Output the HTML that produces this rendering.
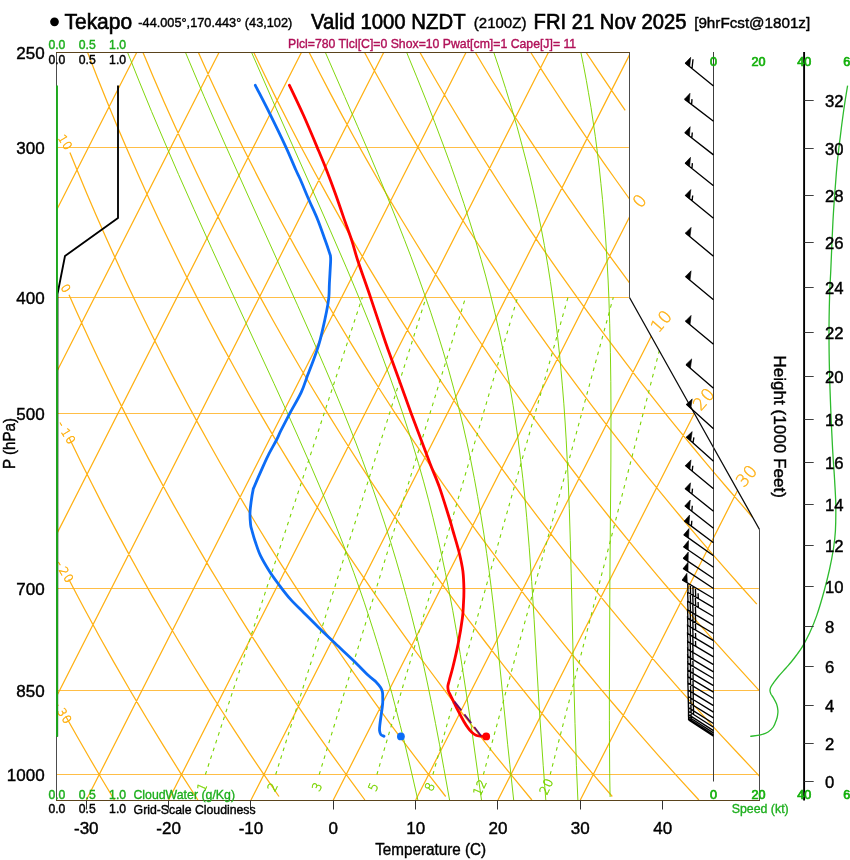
<!DOCTYPE html>
<html lang="en"><head><meta charset="utf-8"><title>Tekapo Skew-T sounding forecast</title>
<style>
html,body{margin:0;padding:0;background:#fff}
body{width:850px;height:860px;overflow:hidden;font-family:"Liberation Sans", Arial, Helvetica, sans-serif}
svg{display:block}
text{font-family:"Liberation Sans", Arial, Helvetica, sans-serif}
.k{stroke:#000;stroke-width:0.42px}
.t{stroke-width:0.62px}
text.d{font-family:"DejaVu Sans Light","DejaVu Sans","Liberation Sans",sans-serif;font-weight:200}
</style></head><body>
<svg width="850" height="860" viewBox="0 0 850 860">
<rect width="850" height="860" fill="#fff"/>
<g fill="none" stroke="#ffb114" stroke-width="1.25">
<path d="M56.5 147.5H628.9M56.5 297.5H628.9M56.5 413.5H693.8M56.5 588.5H758.9M56.5 690.5H758.9M56.5 774.5H758.9" stroke="#ffbe46" stroke-width="1"/>
<path d="M56.5 210.3L136.7 52.5M56.5 372.3L219.0 52.5M56.5 534.4L301.4 52.5M56.5 696.5L383.7 52.5M86.3 800.0L466.0 52.5M168.6 800.0L548.4 52.5M251.0 800.0L629.5 54.9M333.3 800.0L629.5 217.0M415.7 800.0L651.2 336.3M498.0 800.0L694.3 413.5M580.3 800.0L737.4 490.8M65.7 716.2L77.3 736.7L89.5 758.0L101.8 779.0L114.4 800.0M68.8 579.3L76.1 593.2L83.8 607.8L99.0 635.7L114.4 663.1L130.3 690.7L138.4 704.4L146.8 718.5L163.4 745.6L180.4 772.8L197.9 800.0M69.0 437.5L80.3 460.7L91.4 482.8L103.4 506.4L115.3 528.9L127.5 551.6L140.0 574.3L152.8 597.1L166.0 619.8L179.4 642.5L192.5 664.2L206.4 686.7L220.6 709.0L234.9 731.2L249.4 753.1L264.1 774.9L279.0 796.5M69.0 294.7L75.9 310.2L83.4 326.8L90.9 343.0L99.0 360.2L107.0 376.8L114.9 393.0L122.7 408.6L131.1 425.2L139.4 441.2L148.2 458.1L156.9 474.4L165.5 490.2L174.0 505.6L183.1 521.6L192.0 537.2L201.4 553.4L210.6 569.1L220.4 585.3L230.0 601.0L239.4 616.3L249.3 632.1L259.1 647.4L269.3 663.1L279.4 678.3L289.8 694.0L300.1 709.1L310.8 724.7L321.3 739.7L332.2 755.1L342.9 770.0L354.0 785.2L364.9 800.0M69.9 152.4L78.1 172.5L87.0 193.9L95.8 214.5L105.4 236.2L114.8 257.1L124.8 278.9L134.8 299.9L144.5 320.0L154.9 341.0L165.1 361.2L175.9 382.1L186.6 402.2L197.8 422.9L208.8 442.8L220.3 463.2L232.4 484.0L244.2 504.1L256.5 524.5L268.5 544.2L281.0 564.1L294.0 584.3L306.7 603.8L319.7 623.5L332.6 642.5L345.8 661.6L359.3 680.9L373.2 700.3L387.3 719.8L401.8 739.3L416.0 758.1L431.0 777.7L445.7 796.5M87.6 52.5L97.1 76.9L107.5 102.8L117.7 127.4L127.8 150.9L138.6 175.6L149.3 199.2L160.7 223.8L172.9 249.1L184.8 273.3L196.4 296.4L208.8 320.2L221.7 344.6L234.4 367.8L247.6 391.5L261.4 415.6L274.9 438.6L289.0 461.9L302.7 484.2L317.6 507.9L332.2 530.6L347.2 553.4L362.6 576.2L378.3 599.1L394.4 621.9L410.7 644.7L426.8 666.5L443.7 689.1L460.8 711.5L478.2 733.7L495.7 755.8L513.5 777.7L531.9 800.0M143.0 52.5L153.2 76.7L164.3 102.4L175.2 126.8L185.9 150.1L197.5 174.7L209.8 200.2L221.9 224.5L233.8 247.7L246.5 271.7L259.8 296.4L272.8 320.0L286.5 344.2L299.9 367.3L313.9 390.8L328.5 414.7L342.7 437.5L357.5 460.7L372.0 482.8L387.7 506.4L403.1 528.9L418.9 551.6L435.1 574.3L451.6 597.1L468.5 619.8L485.7 642.5L502.5 664.2L520.3 686.7L538.3 709.0L556.5 731.2L575.0 753.1L593.6 774.9L612.3 796.5M198.4 52.5L209.4 76.9L221.4 102.8L233.2 127.4L244.7 150.9L257.2 175.6L269.4 199.2L282.4 223.8L296.3 249.1L309.8 273.3L323.1 296.4L337.1 320.2L351.8 344.6L366.1 367.8L381.1 391.5L396.7 415.6L411.9 438.6L427.7 461.9L443.1 484.2L459.9 507.9L476.2 530.6L493.1 553.4L510.3 576.2L527.9 599.1L545.8 621.9L564.1 644.7L582.0 666.5L600.8 689.1L619.9 711.5L639.2 733.7L658.7 755.8L678.4 777.7L698.9 800.0M253.8 52.5L264.9 75.5L276.9 99.9L288.8 123.3L301.5 147.8L314.1 171.2L327.4 195.6L340.5 218.9L354.4 243.1L368.0 266.1L382.4 289.9L396.4 312.6L411.2 335.8L425.6 358.1L440.7 380.9L456.3 404.0L471.6 426.2L487.5 448.6L503.9 471.4L520.8 494.3L537.2 516.2L554.2 538.2L571.5 560.4L589.3 582.6L606.6 603.9L625.1 626.1L643.1 647.4L661.4 668.6L680.7 690.6L699.6 711.7L719.3 733.3L739.3 754.8L759.4 776.1M309.2 52.5L319.7 73.0L331.0 94.6L342.1 115.4L354.0 137.2L365.7 158.1L377.2 178.2L389.4 199.1L401.4 219.2L414.1 240.0L426.5 260.1L439.6 280.7L452.4 300.6L465.9 320.9L479.1 340.5L492.8 360.6L507.1 381.0L521.1 400.6L535.6 420.6L550.5 440.8L565.2 460.3L580.2 480.0L595.7 499.8L610.9 519.0L626.5 538.2L642.4 557.6L658.7 577.1L675.3 596.5L691.5 615.3L708.1 634.1L724.9 652.9L742.0 671.7L759.5 690.8M364.6 52.5L374.1 70.2L384.4 88.8L394.5 106.8L404.5 124.2L415.1 142.4L425.5 160.0L436.6 178.3L447.5 196.0L459.0 214.3L470.2 232.0L481.3 249.0L493.0 266.7L504.5 283.7L516.4 301.3L528.2 318.3L540.5 335.6L552.5 352.4L565.0 369.6L578.0 387.1L590.7 404.1L603.9 421.3L616.8 437.9L630.1 454.8L643.7 471.9L657.2 488.4L671.0 505.2L685.1 522.0L698.9 538.4L713.1 554.8L727.6 571.4L742.3 588.0L756.8 604.2M420.0 52.5L427.8 66.2L437.0 82.2L446.2 97.7L455.2 112.8L464.1 127.4L472.8 141.6L481.5 155.5L491.4 171.2L501.2 186.5L510.9 201.3L520.5 215.7L529.9 229.7L540.5 245.3L550.9 260.4L561.2 275.1L571.4 289.4L581.4 303.3L592.5 318.6L603.5 333.3L614.3 347.7L624.9 361.7L636.5 376.8L646.9 390.1L658.2 404.4L669.3 418.4L680.3 431.9L692.3 446.5L704.0 460.6L715.6 474.4L728.1 489.0L740.3 503.2L752.7 517.5M475.4 52.5L483.6 66.2L493.3 82.2L501.4 95.2L510.9 110.3L520.2 125.0L529.5 139.3L538.6 153.2L549.1 169.0L557.9 182.2L568.1 197.1L578.2 211.6L588.1 225.8L597.9 239.5L608.9 254.8L619.8 269.7L629.5 282.8M530.8 52.5L542.8 71.6L554.7 90.0L566.4 107.8L579.5 127.4L590.8 144.0L603.4 162.3L615.9 180.0L629.5 199.0M586.2 52.5L595.2 66.2L606.0 82.2L614.8 95.2L625.2 110.3"/>
</g>
<g fill="none" stroke="#7ad400" stroke-width="0.95">
<path d="M417.9 800.2L413.3 780.0L408.9 761.1L404.5 742.5L400.3 725.7L396.1 709.4L392.0 693.8L387.5 677.7L383.1 662.4L378.4 646.7L373.8 631.8L368.9 616.5L364.2 602.2L359.1 587.5L353.7 572.3L347.9 556.7L343.0 543.9L333.2 519.0L322.4 492.8L310.6 465.2L297.8 436.1L286.8 411.6L274.1 383.7L229.3 286.9L211.6 248.3L194.2 209.7L178.6 174.6L165.4 144.0L151.6 111.6L139.0 80.9L127.6 52.5M449.6 800.2L443.9 768.5L439.6 744.8L435.5 723.4L431.6 703.4L427.6 684.0L423.8 666.3L420.5 652.0L416.3 634.6L411.4 615.1L406.4 596.4L401.4 578.5L396.0 559.9L390.7 542.3L384.9 524.1L379.1 506.9L373.0 489.2L367.7 474.6L362.2 459.5L356.3 444.0L350.8 430.1L344.2 413.7L338.1 398.9L331.8 383.7L324.1 365.7L311.9 337.5L297.5 305.2L284.4 276.1L247.3 194.0L224.9 144.0L213.9 119.0L204.1 96.5L194.1 72.9L185.5 52.5M481.5 800.2L471.2 725.7L464.1 679.0L460.3 654.6L456.5 631.8L452.8 610.8L449.2 591.9L445.3 572.3L441.3 553.6L437.3 535.7L432.9 517.3L428.5 499.9L423.7 481.9L418.4 463.3L413.2 446.0L407.5 428.1L402.1 411.6L396.2 394.6L389.9 377.0L383.2 358.8L376.0 339.9L369.2 322.8L361.0 302.6L354.5 286.9L346.5 267.9L330.4 230.8L314.2 194.0L272.5 100.3L251.6 52.5M513.7 800.2L509.8 764.3L507.7 744.8L499.2 659.8L495.5 624.9L493.3 605.1L491.2 587.5L489.1 570.8L486.7 553.6L483.9 534.1L480.9 515.6L477.6 496.4L474.3 478.3L470.6 459.5L466.8 442.1L462.7 424.0L458.6 407.4L453.6 388.1L448.7 370.2L443.3 351.8L437.4 332.7L430.9 312.8L424.7 294.8L418.1 276.1L411.0 256.8L404.4 239.6L396.2 218.8L387.5 197.2L378.1 174.6L368.2 151.0L357.5 126.2L344.6 96.5L325.4 52.5M545.8 800.2L543.2 765.3L539.9 717.6L538.1 688.9L534.1 619.3L531.7 581.5L529.2 547.2L526.7 517.3L524.9 498.1L522.8 478.3L520.6 459.5L518.2 440.1L515.6 422.0L513.1 405.3L510.2 388.1L507.0 370.2L503.4 351.8L499.4 332.7L494.9 312.8L490.5 294.8L485.7 276.1L481.1 259.6L475.3 239.6L469.8 221.9L463.9 203.5L457.4 184.4L450.5 164.6L442.9 144.0L434.8 122.6L426.1 100.3L416.7 76.9L406.7 52.5M577.9 800.2L576.4 765.3L575.0 723.4L573.0 652.0L571.2 573.9L570.3 540.7L569.3 508.7L568.1 478.3L567.2 459.5L566.2 440.1L565.1 422.0L563.8 403.2L562.4 385.9L561.0 370.2L559.5 354.1L557.7 337.5L555.4 317.9L553.0 300.0L550.4 281.5L547.8 265.2L544.4 245.4L541.1 227.8L537.4 209.7L534.0 194.0L530.3 177.9L526.2 161.2L521.7 144.0L516.9 126.2L511.5 107.8L505.7 88.7L499.3 68.9L493.8 52.5M610.1 797.0L609.7 773.7L609.5 748.2L609.4 720.3L609.4 689.6L609.9 578.8L610.9 461.0L611.0 413.6L610.8 381.7L610.4 352.3L609.7 323.6L608.9 298.4L608.1 280.0L607.2 263.8L606.2 247.0L605.0 229.6L603.8 214.7L602.5 199.3L600.9 183.4L599.2 167.1L597.1 150.2L595.3 136.4L593.2 122.1L591.0 107.4L588.4 92.3L586.4 80.7L583.4 64.8L580.9 52.5"/>
<path d="M205.4 774.5L362.3 297.3M275.7 774.5L426.1 297.3M319.2 774.5L465.6 297.3M376.9 774.5L517.6 297.3M432.9 774.5L568.0 297.3M483.4 774.5L613.3 297.3M550.2 774.5L659.3 350.7" stroke-dasharray="3.6 4.6" stroke-width="1.1"/>
</g>
<g fill="#7ad400" font-size="12.4" text-anchor="middle" stroke="#7ad400" stroke-width="0.4">
<text class="d" transform="translate(201.8 787.0) rotate(-65)" x="0.0" y="4.5">1</text>
<text class="d" transform="translate(272.4 787.0) rotate(-65)" x="0.0" y="4.5">2</text>
<text class="d" transform="translate(316.8 786.8) rotate(-65)" x="0.0" y="4.5">3</text>
<text class="d" transform="translate(373.2 787.1) rotate(-65)" x="0.0" y="4.5">5</text>
<text class="d" transform="translate(429.7 786.8) rotate(-65)" x="0.0" y="4.5">8</text>
<text class="d" transform="translate(477.9 791.4) rotate(-65)" x="0.0 8.3" y="4.5 4.5">12</text>
<text class="d" transform="translate(544.4 790.4) rotate(-65)" x="0.0 8.4" y="4.5 4.5">20</text>
</g>
<g fill="#ffb114" font-size="17.2" text-anchor="middle" stroke="#ffb114" stroke-width="0.35">
<text class="d" transform="translate(639.3 200.7) rotate(-49)" x="0.0" y="6.3">0</text>
<text class="d" transform="translate(657.0 325.4) rotate(-49)" x="0.0 11.6" y="6.3 6.3">10</text>
<text class="d" transform="translate(699.6 403.5) rotate(-49)" x="0.0 11.8" y="6.3 6.3">20</text>
<text class="d" transform="translate(742.5 480.0) rotate(-49)" x="0.0 11.3" y="6.3 6.3">30</text>
</g>
<g fill="#ffb114" font-size="11.8" text-anchor="middle" stroke="#ffb114" stroke-width="0.5">
<text class="d" transform="translate(63.2 138.6) rotate(58.6)" x="0.0 8.1" y="4.3 4.3">10</text>
<text class="d" transform="translate(66.0 288.1) rotate(58.6)" x="0.0" y="4.3">0</text>
<text class="d" transform="translate(61.0 424.0) rotate(58.6)" x="0.0 9.8 18.3" y="3.5 4.3 4.3">-10</text>
<text class="d" transform="translate(59.6 563.5) rotate(58.6)" x="0.0 8.7 17.2" y="3.5 4.3 4.3">-20</text>
<text class="d" transform="translate(57.5 704.0) rotate(58.6)" x="0.0 9.6 17.8" y="3.5 4.3 4.3">-30</text>
</g>
<path d="M56.5 52.5V800.5M629.5 52.5V297.5M759.5 529.5V800.5" stroke="#4c4c4c" stroke-width="1" fill="none"/>
<path d="M629.5 297.5L694.4 413.5L759.5 529.5" stroke="#0c0c0c" stroke-width="1.3" fill="none"/>
<path d="M56 52.5H630M56 800.5H760" stroke="#5a431c" stroke-width="1" fill="none"/>
<path d="M86.5 800.5v9M168.5 800.5v9M250.5 800.5v9M333.5 800.5v9M415.5 800.5v9M497.5 800.5v9M580.5 800.5v9M662.5 800.5v9" stroke="#333" stroke-width="1" fill="none"/>
<path d="M118.0 85.6L118.0 218.0L65.0 256.0L57.5 294.0L57.2 736.5" stroke="#000" stroke-width="1.85" fill="none" stroke-linejoin="round"/>
<path d="M57 85.4V736.7" stroke="#1cab1c" stroke-width="1.9" fill="none"/>
<path d="M713.5 52V781.5" stroke="#3c3c3c" stroke-width="1" fill="none"/>
<path d="M713.5 85.9L685.2 63.0M692.0 68.5l1.0 -9.3M713.5 121.3L684.6 99.1M691.6 104.5l0.4 -5.4M713.5 154.9L684.8 132.5M691.8 137.9l0.5 -5.4M713.5 185.7L685.1 163.0M691.9 168.5l0.5 -5.4M713.5 218.3L685.3 195.3M692.1 200.9l0.6 -5.4M713.5 256.3L685.5 233.0M713.5 299.7L685.5 276.4M713.5 344.3L685.5 321.0M713.5 388.3L686.0 364.4M713.5 428.7L686.4 404.3M713.5 461.3L686.4 437.0M693.0 442.8l0.9 -5.4M713.5 488.7L685.4 465.5M692.2 471.1l0.6 -5.4M713.5 511.3L685.1 488.5M692.0 494.0l0.5 -5.4M713.5 528.3L684.9 505.8M691.8 511.2l0.5 -5.4M713.5 542.7L684.4 520.9M691.4 526.2l0.4 -5.4M713.5 555.7L683.8 534.6M713.5 567.3L683.5 546.7M713.5 578.5L683.3 558.1M713.5 588.5L683.2 568.4M713.5 598.5L682.3 579.8M713.5 607.7L688.0 592.5M688.0 592.5l-0.3 -9.4M690.6 594.0l-0.3 -9.4M693.2 595.5l-0.3 -9.4M695.7 597.1l-0.3 -9.4M698.3 598.6l-0.2 -5.4M713.5 616.5L688.0 601.3M688.0 601.3l-0.4 -9.4M690.6 602.8l-0.4 -9.4M693.1 604.4l-0.4 -9.4M695.7 605.9l-0.4 -9.4M698.3 607.4l-0.2 -5.4M713.5 625.3L688.0 610.1M688.0 610.1l-0.4 -9.4M690.5 611.7l-0.4 -9.4M693.1 613.2l-0.4 -9.4M695.7 614.7l-0.4 -9.4M713.5 633.5L687.9 618.4M687.9 618.4l-0.4 -9.4M690.5 619.9l-0.4 -9.4M693.1 621.4l-0.4 -9.4M695.7 623.0l-0.4 -9.4M713.5 640.6L687.9 625.5M687.9 625.5l-0.4 -9.4M690.5 627.0l-0.4 -9.4M693.1 628.6l-0.4 -9.4M695.7 630.1l-0.4 -9.4M713.5 648.8L687.9 633.7M687.9 633.7l-0.4 -9.4M690.5 635.2l-0.4 -9.4M693.1 636.7l-0.4 -9.4M695.7 638.3l-0.2 -5.4M713.5 656.8L687.9 641.7M687.9 641.7l-0.4 -9.4M690.5 643.2l-0.4 -9.4M693.1 644.7l-0.4 -9.4M695.7 646.3l-0.2 -5.4M713.5 664.7L688.0 649.5M688.0 649.5l-0.4 -9.4M690.5 651.1l-0.4 -9.4M693.1 652.6l-0.4 -9.4M713.5 671.8L688.0 656.6M688.0 656.6l-0.4 -9.4M690.6 658.1l-0.4 -9.4M693.1 659.7l-0.4 -9.4M713.5 678.5L688.0 663.3M688.0 663.3l-0.4 -9.4M690.6 664.8l-0.4 -9.4M693.1 666.4l-0.2 -5.4M713.5 685.6L688.0 670.4M688.0 670.4l-0.3 -9.4M690.6 671.9l-0.3 -9.4M693.2 673.4l-0.2 -5.4M713.5 692.1L688.0 676.8M688.0 676.8l-0.3 -9.4M690.6 678.4l-0.3 -9.4M693.2 679.9l-0.2 -5.4M713.5 698.5L688.0 683.2M688.0 683.2l-0.3 -9.4M690.6 684.8l-0.3 -9.4M693.2 686.3l-0.2 -5.4M713.5 705.6L688.1 690.2M688.1 690.2l-0.3 -9.4M690.7 691.7l-0.3 -9.4M693.3 693.3l-0.3 -9.4M713.5 712.1L688.2 696.5M688.2 696.5l-0.2 -9.4M690.8 698.1l-0.2 -9.4M693.3 699.7l-0.2 -9.4M713.5 717.9L688.3 702.2M688.3 702.2l-0.2 -9.4M690.9 703.8l-0.2 -9.4M693.4 705.3l-0.1 -5.5M713.5 723.5L688.4 707.6M688.4 707.6l-0.1 -9.4M690.9 709.2l-0.1 -9.4M693.5 710.8l-0.1 -5.5M713.5 727.3L688.5 711.3M688.5 711.3l-0.1 -9.4M691.0 712.9l-0.1 -9.4M693.5 714.6l-0.0 -5.5M713.5 730.6L688.5 714.6M688.5 714.6l-0.0 -9.4M691.0 716.2l-0.0 -9.4M713.5 732.9L688.5 716.8M688.5 716.8l-0.0 -9.4M691.1 718.4l-0.0 -9.4M713.5 734.7L688.6 718.6M688.6 718.6l-0.0 -9.4M691.1 720.2l-0.0 -9.4M713.5 736.2L688.6 720.0M688.6 720.0l0.0 -9.4M691.1 721.7l0.0 -5.5" stroke="#000" stroke-width="1.35" fill="none"/>
<path d="M685.2 63.0L690.7 57.3L689.7 66.7ZM684.6 99.1L690.0 93.3L689.2 102.7ZM684.8 132.5L690.2 126.7L689.4 136.0ZM685.1 163.0L690.5 157.3L689.6 166.6ZM685.3 195.3L690.8 189.6L689.8 199.0ZM685.5 233.0L691.1 227.4L690.0 236.7ZM685.5 276.4L691.1 270.8L690.0 280.1ZM685.5 321.0L691.1 315.4L690.0 324.7ZM686.0 364.4L691.7 358.9L690.4 368.2ZM686.4 404.3L692.2 398.9L690.8 408.2ZM686.4 437.0L692.2 431.6L690.8 440.8ZM685.4 465.5L691.0 459.9L689.9 469.2ZM685.1 488.5L690.5 482.8L689.6 492.2ZM684.9 505.8L690.3 500.0L689.4 509.4ZM684.4 520.9L689.6 515.0L689.0 524.4ZM683.8 534.6L689.0 528.6L688.6 538.0ZM683.5 546.7L688.5 540.6L688.3 550.0ZM683.3 558.1L688.3 552.0L688.1 561.4ZM683.2 568.4L688.1 562.2L688.0 571.6ZM682.3 579.8L686.9 573.3L687.3 582.7Z" fill="#000" stroke="#000" stroke-width="0.6"/>
<path d="M255.3 85.3C257.6 89.9 264.3 102.6 269.4 112.9C274.5 123.2 281.5 137.6 285.9 147.1C290.3 156.6 293.5 164.7 295.9 170.0C298.2 175.3 297.9 174.1 300.0 178.8C302.1 183.5 305.3 191.4 308.2 198.2C311.1 205.0 314.8 212.3 317.6 219.4C320.5 226.5 323.2 234.8 325.3 240.6C327.4 246.4 329.0 251.3 329.9 254.0C330.8 256.7 330.4 255.3 330.5 256.6C330.6 257.9 330.8 257.5 330.6 262.0C330.4 266.5 329.7 277.6 329.4 283.5C329.1 289.4 329.3 292.9 328.8 297.6C328.3 302.3 327.6 306.3 326.5 311.8C325.4 317.3 323.7 325.1 322.4 330.6C321.1 336.1 320.3 339.8 318.8 344.7C317.3 349.6 315.4 354.9 313.5 360.0C311.6 365.1 309.7 369.9 307.6 375.3C305.6 380.7 304.2 385.9 301.2 392.4C298.2 398.9 292.8 407.6 289.4 414.1C286.0 420.6 282.8 426.9 280.6 431.2C278.5 435.5 278.6 436.0 276.5 440.0C274.4 444.0 270.8 450.2 268.2 455.3C265.6 460.4 263.6 465.3 261.2 470.6C258.8 475.9 255.3 484.1 254.0 487.2C252.7 490.3 253.7 487.1 253.2 489.4C252.7 491.7 251.7 497.3 251.2 501.2C250.7 505.1 250.1 509.1 250.0 513.0C249.9 516.9 250.3 521.9 250.6 524.7C250.9 527.5 251.0 527.1 251.8 530.0C252.6 532.9 253.8 537.5 255.3 541.8C256.8 546.1 258.2 551.0 260.6 555.9C263.0 560.8 266.3 566.3 269.4 571.2C272.5 576.1 275.9 580.6 279.4 585.3C282.9 590.0 286.6 594.9 290.6 599.4C294.6 603.9 299.0 607.9 303.5 612.4C308.0 616.9 312.3 621.3 317.6 626.5C322.9 631.7 329.4 637.9 335.3 643.5C341.2 649.1 347.4 654.7 352.9 660.0C358.4 665.3 364.3 671.6 368.2 675.3C372.1 679.0 374.4 680.3 376.5 682.4C378.6 684.5 379.6 686.0 380.6 687.6C381.6 689.2 382.0 690.2 382.4 691.8C382.8 693.4 382.7 695.0 382.7 697.0C382.7 699.0 382.9 701.1 382.6 704.1C382.4 707.1 381.7 711.2 381.2 714.7C380.7 718.2 380.1 722.6 379.8 725.3C379.5 728.0 379.4 729.4 379.6 730.9C379.8 732.4 380.1 733.6 380.8 734.5C381.5 735.4 383.5 735.9 384.0 736.2" stroke="#0c6cf6" stroke-width="2.8" fill="none" stroke-linejoin="round" stroke-linecap="round"/>
<path d="M289.4 85.3C291.8 90.3 298.9 105.0 303.5 115.3C308.1 125.6 313.3 138.0 317.1 147.1C320.9 156.2 323.5 162.3 326.5 170.0C329.5 177.7 332.5 185.7 335.3 193.5C338.1 201.3 340.8 209.2 343.5 217.1C346.2 224.9 349.4 233.4 351.8 240.6C354.2 247.8 354.5 250.5 357.6 260.0C360.7 269.5 366.7 286.0 370.6 297.6C374.5 309.2 378.3 320.7 381.2 329.4C384.1 338.1 385.3 341.9 388.2 350.0C391.1 358.1 394.7 367.6 398.5 378.2C402.3 388.8 407.4 403.2 411.2 413.5C415.0 423.8 418.1 431.7 421.2 440.0C424.3 448.3 427.0 455.6 430.0 463.5C433.0 471.4 436.3 478.3 439.4 487.1C442.5 495.9 446.5 509.2 448.8 516.5C451.1 523.8 451.2 524.8 453.0 531.0C454.8 537.2 457.8 546.8 459.4 553.5C461.0 560.2 462.1 565.3 462.9 571.2C463.6 577.1 463.8 583.5 463.9 588.8C464.0 594.1 463.8 598.1 463.5 603.0C463.2 607.9 463.3 611.2 462.4 618.0C461.5 624.8 459.8 635.3 458.2 643.5C456.6 651.7 454.4 660.9 452.9 667.0C451.4 673.1 450.2 676.9 449.4 680.0C448.6 683.1 448.1 684.1 447.9 685.9C447.7 687.6 448.0 689.1 448.3 690.5C448.6 691.9 449.1 692.5 449.9 694.2C450.7 695.9 451.7 697.8 453.1 700.6C454.5 703.4 456.5 707.7 458.3 711.2C460.1 714.7 462.4 719.0 464.0 721.8C465.6 724.6 466.9 726.4 468.2 728.1C469.5 729.9 470.5 731.1 471.8 732.3C473.1 733.5 474.5 734.6 476.0 735.2C477.5 735.9 479.6 736.0 480.9 736.2C482.2 736.4 483.5 736.4 484.0 736.4" stroke="#ff0000" stroke-width="2.8" fill="none" stroke-linejoin="round" stroke-linecap="round"/>
<path d="M454.5 701.6L481.3 736.2" stroke="#6e0c66" stroke-width="1.8" stroke-dasharray="11.1 5" fill="none"/>
<circle cx="400.9" cy="736.4" r="3.9" fill="#0c6cf6"/>
<circle cx="486.2" cy="736.4" r="3.9" fill="#ff0000"/>
<path d="M847.6 85.6C846.9 89.8 844.8 102.5 843.6 111.0C842.4 119.5 841.3 128.1 840.3 136.7C839.2 145.2 838.1 153.8 837.3 162.3C836.4 170.9 835.9 179.5 835.2 188.0C834.6 196.5 833.9 205.0 833.4 213.5C832.9 222.0 832.5 229.6 832.1 239.0C831.7 248.4 831.2 260.6 830.8 270.0C830.4 279.4 829.9 284.9 829.6 295.6C829.3 306.3 829.0 321.3 829.0 334.0C829.0 346.7 829.2 359.2 829.5 372.0C829.8 384.8 830.3 397.9 830.8 410.7C831.3 423.5 832.0 437.4 832.6 449.0C833.2 460.6 834.1 470.6 834.6 480.0C835.1 489.4 835.7 497.1 835.8 505.6C835.9 514.1 835.8 523.8 835.4 531.0C835.0 538.2 834.4 542.6 833.4 549.0C832.4 555.4 831.0 562.7 829.5 569.5C828.0 576.3 826.5 582.3 824.4 590.0C822.3 597.7 819.2 608.4 816.7 615.6C814.2 622.8 812.0 627.8 809.6 633.0C807.2 638.2 804.6 642.9 802.4 646.6C800.2 650.3 798.5 652.4 796.6 655.0C794.7 657.6 793.0 659.8 791.2 662.0C789.4 664.2 788.1 665.6 786.0 668.0C783.9 670.4 780.5 674.0 778.4 676.5C776.3 679.0 774.8 681.2 773.5 683.0C772.2 684.8 771.3 686.0 770.7 687.3C770.1 688.6 769.9 689.8 770.0 691.0C770.1 692.2 770.7 693.4 771.2 694.5C771.8 695.6 772.4 696.0 773.3 697.6C774.2 699.2 775.8 701.9 776.6 704.0C777.4 706.1 777.7 708.6 777.9 710.4C778.1 712.2 777.8 713.5 777.6 715.0C777.4 716.5 777.3 717.3 776.6 719.3C775.9 721.3 774.7 724.9 773.3 727.0C771.9 729.1 770.2 730.7 768.1 732.0C766.0 733.3 763.5 734.2 760.5 734.9C757.5 735.6 751.9 736.1 750.2 736.4" stroke="#2dbb2d" stroke-width="1.3" fill="none"/>
<path d="M804.1 52V800.5" stroke="#000" stroke-width="1.9" fill="none"/>
<path d="M804.1 781.5H813.7M804.1 743.5H813.7M804.1 705.5H813.7M804.1 666.5H813.7M804.1 626.5H813.7M804.1 586.5H813.7M804.1 545.5H813.7M804.1 504.5H813.7M804.1 462.5H813.7M804.1 419.5H813.7M804.1 376.5H813.7M804.1 332.5H813.7M804.1 287.5H813.7M804.1 242.5H813.7M804.1 195.5H813.7M804.1 148.5H813.7M804.1 100.5H813.7" stroke="#2a2a2a" stroke-width="0.9" fill="none"/>
<g class="k" fill="#000" font-size="16.7">
<text x="825" y="787.5">0</text>
<text x="825" y="749.5">2</text>
<text x="825" y="711.5">4</text>
<text x="825" y="672.5">6</text>
<text x="825" y="632.5">8</text>
<text x="825" y="592.5">10</text>
<text x="825" y="551.5">12</text>
<text x="825" y="510.5">14</text>
<text x="825" y="468.5">16</text>
<text x="825" y="425.5">18</text>
<text x="825" y="382.5">20</text>
<text x="825" y="338.5">22</text>
<text x="825" y="293.5">24</text>
<text x="825" y="248.5">26</text>
<text x="825" y="201.5">28</text>
<text x="825" y="154.5">30</text>
<text x="825" y="106.5">32</text>
</g>
<text class="k" transform="translate(773.5 426.6) rotate(90)" font-size="17.4" text-anchor="middle" textLength="142.5" lengthAdjust="spacingAndGlyphs">Height (1000 Feet)</text>
<g fill="#14b00c" font-size="12.6" text-anchor="middle" style="stroke:#14b00c;stroke-width:0.7px">
<text x="713.6" y="65.6">0</text>
<text x="713.6" y="798.8">0</text>
<text x="758.6" y="65.6">20</text>
<text x="758.6" y="798.8">20</text>
<text x="804.2" y="65.6">40</text>
<text x="804.2" y="798.8">40</text>
<text x="850.3" y="65.6">60</text>
<text x="850.3" y="798.8">60</text>
</g>
<text x="760.2" y="812.6" fill="#1cae1c" style="stroke:#1cae1c;stroke-width:0.35px" font-size="13.4" text-anchor="middle" textLength="57" lengthAdjust="spacingAndGlyphs">Speed (kt)</text>
<g fill="#1cae1c" font-size="12.2" text-anchor="middle" style="stroke:#1cae1c;stroke-width:0.42px">
<text x="56.9" y="49.3">0.0</text>
<text x="56.9" y="798.7">0.0</text>
<text x="87.3" y="49.3">0.5</text>
<text x="87.3" y="798.7">0.5</text>
<text x="117.6" y="49.3">1.0</text>
<text x="117.6" y="798.7">1.0</text>
</g>
<g class="k" fill="#000" font-size="12.2" text-anchor="middle">
<text x="56.9" y="63.7">0.0</text>
<text x="56.9" y="813.3">0.0</text>
<text x="87.3" y="63.7">0.5</text>
<text x="87.3" y="813.3">0.5</text>
<text x="117.6" y="63.7">1.0</text>
<text x="117.6" y="813.3">1.0</text>
</g>
<text x="133.4" y="798.8" fill="#1cae1c" style="stroke:#1cae1c;stroke-width:0.35px" font-size="13.4" textLength="101.6" lengthAdjust="spacingAndGlyphs">CloudWater (g/Kg)</text>
<text class="k" x="133.6" y="813.5" fill="#000" font-size="13.4" textLength="122" lengthAdjust="spacingAndGlyphs">Grid-Scale Cloudiness</text>
<g class="k" fill="#000" font-size="17" text-anchor="end">
<text x="44.6" y="58.8">250</text>
<text x="44.6" y="153.8">300</text>
<text x="44.6" y="303.8">400</text>
<text x="44.6" y="419.8">500</text>
<text x="44.6" y="594.8">700</text>
<text x="44.6" y="696.8">850</text>
<text x="44.6" y="780.8">1000</text>
</g>
<text class="k" transform="translate(14.6 443.5) rotate(-90)" font-size="16.7" text-anchor="middle" textLength="51" lengthAdjust="spacingAndGlyphs">P (hPa)</text>
<g class="k" fill="#000" font-size="17" text-anchor="middle">
<text x="86.3" y="833.6">-30</text>
<text x="168.6" y="833.6">-20</text>
<text x="251.0" y="833.6">-10</text>
<text x="333.3" y="833.6">0</text>
<text x="415.7" y="833.6">10</text>
<text x="498.0" y="833.6">20</text>
<text x="580.3" y="833.6">30</text>
<text x="662.7" y="833.6">40</text>
</g>
<text class="k" x="430.7" y="854.5" font-size="16.3" text-anchor="middle" textLength="111" lengthAdjust="spacingAndGlyphs">Temperature (C)</text>
<circle cx="54.5" cy="21.8" r="4.35" fill="#000"/>
<text class="k t" x="64.5" y="29.0" font-size="21.3" textLength="67.6" lengthAdjust="spacingAndGlyphs">Tekapo</text>
<text class="k" x="138.3" y="27.3" font-size="13.6" textLength="154" lengthAdjust="spacingAndGlyphs">-44.005°,170.443° (43,102)</text>
<text class="k t" x="311.0" y="29.0" font-size="21.3" textLength="154.6" lengthAdjust="spacingAndGlyphs">Valid 1000 NZDT</text>
<text class="k" x="473.8" y="27.8" font-size="15.4" textLength="52.6" lengthAdjust="spacingAndGlyphs">(2100Z)</text>
<text class="k t" x="533.6" y="29.0" font-size="21.3" textLength="152.8" lengthAdjust="spacingAndGlyphs">FRI 21 Nov 2025</text>
<text class="k" x="694.2" y="27.8" font-size="15.4" textLength="116" lengthAdjust="spacingAndGlyphs">[9hrFcst@1801z]</text>
<text x="288" y="48.3" font-size="13.1" fill="#b01058" style="stroke:#b01058;stroke-width:0.4px" textLength="288.2" lengthAdjust="spacingAndGlyphs">Plcl=780 Tlcl[C]=0 Shox=10 Pwat[cm]=1 Cape[J]= 11</text>
</svg>
</body></html>
